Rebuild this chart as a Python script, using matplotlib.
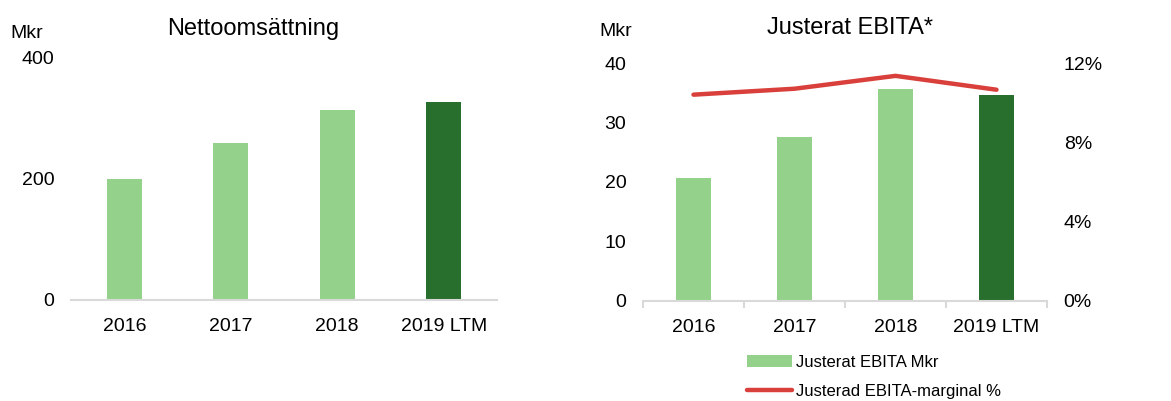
import numpy as np
import matplotlib
matplotlib.use("Agg")
import matplotlib.pyplot as plt

plt.rcParams['font.family'] = ['Liberation Sans', 'DejaVu Sans']

# Data
years = ['2016', '2017', '2018', '2019 LTM']
omsattning = [199, 258, 313, 326]          # Mkr
ebita = [20.7, 27.5, 35.6, 34.6]           # Mkr
marginal = [10.4, 10.7, 11.35, 10.65]      # %

ljusgron = '#94d18b'
morkgron = '#286e2d'
rod = '#d9403b'
gra = '#d9d9d9'

W, H = 1171, 401
fig = plt.figure(figsize=(W / 100, H / 100), dpi=100)

def px(x0, y_top, x1, y_bot):
    return [x0 / W, 1 - y_bot / H, (x1 - x0) / W, (y_bot - y_top) / H]

x = np.arange(len(years))
farger = [ljusgron] * 3 + [morkgron]

# Vänster diagram: Nettoomsättning
ax1 = fig.add_axes(px(71, 57, 497, 299.5))
ax1.bar(x, omsattning, width=0.33, color=farger)
ax1.set_xlim(-0.5, 3.5)
ax1.set_ylim(0, 400)
ax1.set_yticks([0, 200, 400])
ax1.set_xticks(x)
ax1.set_xticklabels(years)
for s in ['top', 'right', 'left']:
    ax1.spines[s].set_visible(False)
ax1.spines['bottom'].set_color(gra)
ax1.spines['bottom'].set_linewidth(1.5)
ax1.tick_params(axis='y', length=0, pad=12, labelsize=14)
ax1.tick_params(axis='x', length=0, pad=13, labelsize=14)
fig.text(253 / W, 1 - 26 / H, 'Nettoomsättning', ha='center', va='center_baseline', fontsize=17)
fig.text(10 / W, 1 - 32 / H, 'Mkr', ha='left', va='center_baseline', fontsize=14)

# Höger diagram: Justerat EBITA
ax2 = fig.add_axes(px(643, 63, 1047, 300.5))
staplar = ax2.bar(x, ebita, width=0.34, color=farger, label='Justerat EBITA Mkr')
ax2.set_xlim(-0.5, 3.5)
ax2.set_ylim(0, 40)
ax2.set_yticks([0, 10, 20, 30, 40])
ax2.set_xticks(x)
ax2.set_xticklabels(years)
ax2.set_xticks(np.arange(-0.5, 4, 1), minor=True)
for s in ['top', 'right', 'left']:
    ax2.spines[s].set_visible(False)
ax2.spines['bottom'].set_color(gra)
ax2.spines['bottom'].set_linewidth(1.5)
ax2.tick_params(axis='y', length=0, pad=12, labelsize=14)
ax2.tick_params(axis='x', which='major', length=0, pad=13, labelsize=14)
ax2.tick_params(axis='x', which='minor', length=5, width=1.5, color=gra)

ax3 = ax2.twinx()
linje, = ax3.plot(x, marginal, color=rod, linewidth=3.2, solid_capstyle='round',
                  label='Justerad EBITA-marginal %')
ax3.set_ylim(0, 12)
ax3.set_yticks([0, 4, 8, 12])
ax3.set_yticklabels(['0%', '4%', '8%', '12%'])
for s in ['top', 'right', 'left', 'bottom']:
    ax3.spines[s].set_visible(False)
ax3.tick_params(axis='y', length=0, pad=12, labelsize=14)

fig.text(850 / W, 1 - 26 / H, 'Justerat EBITA*', ha='center', va='center_baseline', fontsize=17)
fig.text(599 / W, 1 - 29 / H, 'Mkr', ha='left', va='center_baseline', fontsize=14)

fig.legend([staplar[0], linje], ['Justerat EBITA Mkr', 'Justerad EBITA-marginal %'],
           loc='upper left', bbox_to_anchor=(747 / W, 1 - 355 / H),
           frameon=False, fontsize=12, borderpad=0, borderaxespad=0,
           handlelength=2.7, handletextpad=0.25, labelspacing=0.85)

fig.savefig('out.png', dpi=100)
